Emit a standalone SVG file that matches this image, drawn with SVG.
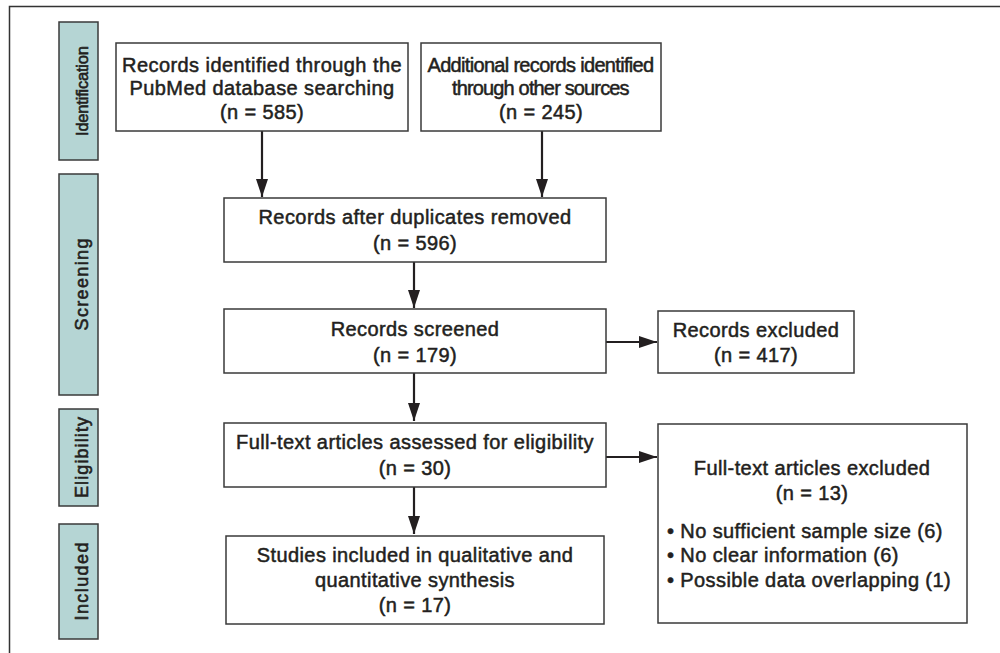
<svg xmlns="http://www.w3.org/2000/svg" width="1000" height="653" viewBox="0 0 1000 653">
<defs>
<style>
.box{fill:#fff;stroke:#3a3a3a;stroke-width:1.5}
.side{fill:#b5d5d4;stroke:#3a3a3a;stroke-width:1.5}
.t{font-family:"Liberation Sans",Arial,sans-serif;font-size:20px;letter-spacing:0.4px;fill:#231f20;stroke:#231f20;stroke-width:0.5;text-anchor:middle}
.s{font-family:"Liberation Sans",Arial,sans-serif;font-size:18px;fill:#231f20;stroke:#231f20;stroke-width:0.6;text-anchor:middle}
.l{text-anchor:start}
.c{stroke:#231f20;stroke-width:2.2;fill:none}
</style>
<marker id="ah" markerWidth="18" markerHeight="12" refX="18" refY="6" orient="auto" markerUnits="userSpaceOnUse">
<path d="M0,0 L18,6 L0,12 Z" fill="#231f20"/>
</marker>
</defs>
<rect width="1000" height="653" fill="#fff"/>
<path d="M9.5,653 V6.5 H1000" fill="none" stroke="#333" stroke-width="1.5"/>

<g id="side-identification"><rect class="side" x="59" y="22" width="39" height="138"/><text class="s" transform="translate(87.5,91) rotate(-90)" style="font-size:16.5px" textLength="90">Identification</text></g>
<g id="side-screening"><rect class="side" x="59" y="174" width="39" height="221"/><text class="s" transform="translate(87.5,284.5) rotate(-90)" textLength="92">Screening</text></g>
<g id="side-eligibility"><rect class="side" x="59" y="409" width="39" height="97"/><text class="s" transform="translate(87.5,457.5) rotate(-90)" textLength="81">Eligibility</text></g>
<g id="side-included"><rect class="side" x="59" y="524" width="39" height="115"/><text class="s" transform="translate(87.5,581.5) rotate(-90)" textLength="78">Included</text></g>

<g id="connectors">
<line class="c" x1="262" y1="131" x2="262" y2="197" marker-end="url(#ah)"/>
<line class="c" x1="542" y1="131" x2="542" y2="197" marker-end="url(#ah)"/>
<line class="c" x1="414" y1="262" x2="414" y2="308" marker-end="url(#ah)"/>
<line class="c" x1="414" y1="373" x2="414" y2="421" marker-end="url(#ah)"/>
<line class="c" x1="414" y1="487" x2="414" y2="534" marker-end="url(#ah)"/>
<line class="c" x1="606" y1="342" x2="657" y2="342" marker-end="url(#ah)"/>
<line class="c" x1="606" y1="457" x2="657" y2="457" marker-end="url(#ah)"/>
</g>

<g id="n-pubmed"><rect class="box" x="116" y="43" width="292" height="88"/>
<text class="t" x="262" y="72" textLength="280">Records identified through the</text>
<text class="t" x="262" y="95" textLength="265">PubMed database searching</text>
<text class="t" x="262" y="119">(n = 585)</text></g>
<g id="n-other"><rect class="box" x="421" y="43" width="240" height="88"/>
<text class="t" x="541" y="72" textLength="227">Additional records identified</text>
<text class="t" x="541" y="95" textLength="178">through other sources</text>
<text class="t" x="541" y="119">(n = 245)</text></g>
<g id="n-dup"><rect class="box" x="224" y="198" width="382" height="64"/>
<text class="t" x="415" y="224" textLength="313">Records after duplicates removed</text>
<text class="t" x="415" y="250">(n = 596)</text></g>
<g id="n-screened"><rect class="box" x="224" y="309" width="382" height="64"/>
<text class="t" x="415" y="336">Records screened</text>
<text class="t" x="415" y="362">(n = 179)</text></g>
<g id="n-excluded"><rect class="box" x="658" y="311" width="196" height="62"/>
<text class="t" x="756" y="337">Records excluded</text>
<text class="t" x="756" y="362">(n = 417)</text></g>
<g id="n-fulltext"><rect class="box" x="224" y="423" width="382" height="64"/>
<text class="t" x="415" y="449" textLength="358">Full-text articles assessed for eligibility</text>
<text class="t" x="415" y="475">(n = 30)</text></g>
<g id="n-ftexcluded"><rect class="box" x="658" y="424" width="309" height="199"/>
<text class="t" x="812" y="475">Full-text articles excluded</text>
<text class="t" x="812" y="500">(n = 13)</text>
<text class="t l" x="667" y="538">• No sufficient sample size (6)</text>
<text class="t l" x="667" y="562">• No clear information (6)</text>
<text class="t l" x="667" y="587">• Possible data overlapping (1)</text></g>
<g id="n-included"><rect class="box" x="226" y="536" width="378" height="88"/>
<text class="t" x="415" y="562">Studies included in qualitative and</text>
<text class="t" x="415" y="587">quantitative synthesis</text>
<text class="t" x="415" y="612">(n = 17)</text></g>
</svg>
